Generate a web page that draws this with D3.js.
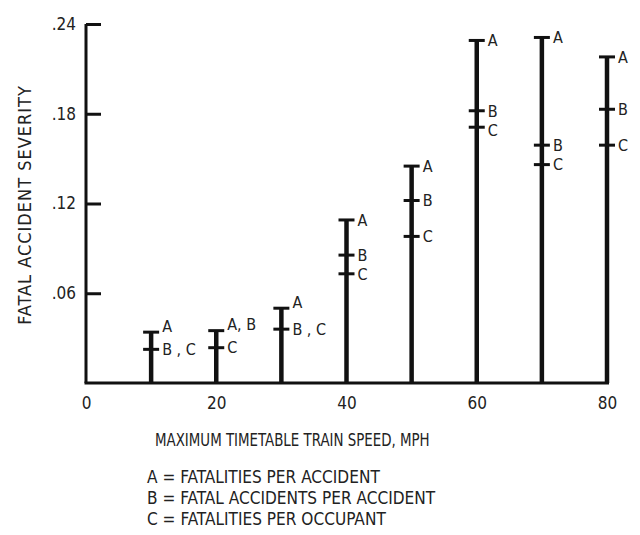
<!DOCTYPE html>
<html>
<head>
<meta charset="utf-8">
<script src="https://cdn.jsdelivr.net/npm/d3@7"></script>
<style>
  html, body { margin: 0; padding: 0; background: #ffffff; }
  svg { display: block; }
  text { font-family: "DejaVu Sans Condensed", "Liberation Sans Narrow", sans-serif; fill: #222; }
</style>
</head>
<body>
<svg id="chart" width="640" height="535"></svg>
<script>
// ---- data ----
const speeds = [10, 20, 30, 40, 50, 60, 70, 80];
const fatalitiesPerAccident = [0.034, 0.035, 0.050, 0.109, 0.145, 0.229, 0.231, 0.218];      // A
const fatalAccidentsPerAccident = [0.0225, 0.035, 0.036, 0.0855, 0.122, 0.182, 0.159, 0.183]; // B
const fatalitiesPerOccupant = [0.0225, 0.0236, 0.036, 0.073, 0.098, 0.171, 0.146, 0.159];     // C
const seriesKeys = ["A", "B", "C"];
const yTicks = [0.06, 0.12, 0.18, 0.24];
const xTicks = [0, 20, 40, 60, 80];
const yTitle = "FATAL ACCIDENT SEVERITY";
const xTitle = "MAXIMUM TIMETABLE TRAIN SPEED, MPH";
const legendLines = [
  "A = FATALITIES PER ACCIDENT",
  "B = FATAL ACCIDENTS PER ACCIDENT",
  "C = FATALITIES PER OCCUPANT"
];

const FONT = '"DejaVu Sans Condensed", "Liberation Sans Narrow", sans-serif';
const svg = d3.select("#chart");
const x = d3.scaleLinear().domain([0, 80]).range([86, 607]);
const y = d3.scaleLinear().domain([0, 0.24]).range([383, 24]);

// y axis
const yAxis = d3.axisLeft(y)
  .tickValues(yTicks)
  .tickSizeInner(-15)
  .tickSizeOuter(0)
  .tickPadding(10)
  .tickFormat(d => d3.format(".2f")(d).replace(/^0/, ""));
const gy = svg.append("g").attr("transform", "translate(86,0)").call(yAxis);
gy.select(".domain").attr("stroke", "#111").attr("stroke-width", 3)
  .attr("d", `M0,${y(0.24)}V${y(0)}`);
gy.selectAll(".tick line").attr("stroke", "#111").attr("stroke-width", 3);
gy.selectAll(".tick text").attr("font-size", 17).attr("fill", "#222").style("font-family", FONT);

// x axis
const xAxis = d3.axisBottom(x).tickValues(xTicks).tickSize(0).tickPadding(14).tickFormat(d3.format("d"));
const gx = svg.append("g").attr("transform", `translate(0,${y(0)})`).call(xAxis);
gx.select(".domain").attr("stroke", "#111").attr("stroke-width", 3)
  .attr("d", `M${x(0) - 1.5},0H${x(80) + 2}`);
gx.selectAll(".tick text").attr("font-size", 17).attr("fill", "#222").style("font-family", FONT);

// bars
const data = speeds.map((s, i) => ({
  speed: s,
  vals: [fatalitiesPerAccident[i], fatalAccidentsPerAccident[i], fatalitiesPerOccupant[i]]
}));

const bars = svg.append("g").selectAll("g").data(data).join("g");
bars.append("line")
  .attr("x1", d => x(d.speed)).attr("x2", d => x(d.speed))
  .attr("y1", y(0)).attr("y2", d => y(d.vals[0]))
  .attr("stroke", "#111").attr("stroke-width", 4.5);

const MIN_GAP = 19;
bars.each(function(d) {
  const g = d3.select(this);
  const groups = [];
  d.vals.forEach((v, k) => {
    const last = groups[groups.length - 1];
    if (last && Math.abs(last.v - v) < 1e-9) last.keys.push(seriesKeys[k]);
    else groups.push({ v, keys: [seriesKeys[k]] });
  });
  groups.forEach(grp => { grp.ly = y(grp.v); });
  if (groups.length > 1 && groups[1].ly - groups[0].ly < 22) groups[0].ly = y(groups[0].v) - 6;
  for (let gi = 1; gi < groups.length; gi++) {
    if (groups[gi].ly - groups[gi - 1].ly < MIN_GAP) groups[gi].ly = groups[gi - 1].ly + MIN_GAP;
  }
  groups.forEach(grp => {
    const cx = x(d.speed), cy = y(grp.v);
    g.append("line")
      .attr("x1", cx - 8).attr("x2", cx + 8)
      .attr("y1", cy).attr("y2", cy)
      .attr("stroke", "#111").attr("stroke-width", 3);
    g.append("text")
      .attr("x", cx + 11).attr("y", grp.ly)
      .attr("dy", "0.36em")
      .attr("font-size", 16)
      .text(grp.keys.join(grp.keys[0] === "A" ? ", " : " , "));
  });
});

// y title
svg.append("text")
  .attr("transform", `translate(31,${205}) rotate(-90)`)
  .attr("text-anchor", "middle")
  .attr("font-size", 18)
  .attr("letter-spacing", 1)
  .text(yTitle);

// x title
svg.append("text")
  .attr("transform", "translate(155,446) scale(0.85,1)")
  .attr("font-size", 17.5)
  .text(xTitle);

// legend
svg.append("g").selectAll("text").data(legendLines).join("text")
  .attr("transform", (d, i) => `translate(147,${483 + i * 21}) scale(0.95,1)`)
  .attr("font-size", 18)
  .text(d => d);
</script>
</body>
</html>
